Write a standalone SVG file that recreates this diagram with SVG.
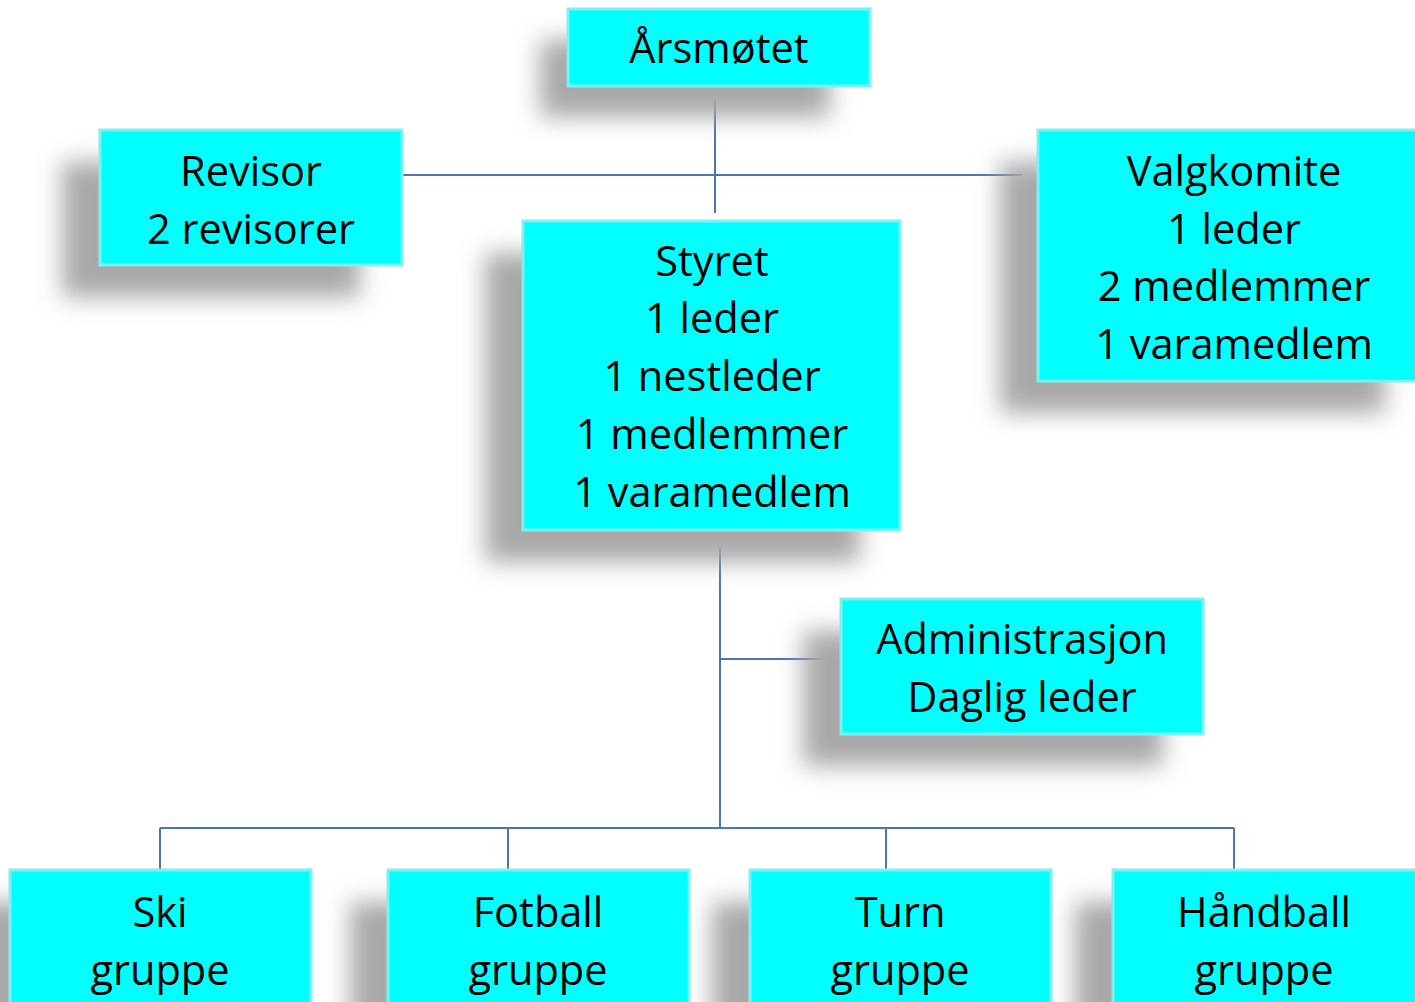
<svg xmlns="http://www.w3.org/2000/svg" width="1415" height="1002" viewBox="0 0 1415 1002">
<defs>
<filter id="blur" x="-30%" y="-30%" width="160%" height="160%"><feGaussianBlur stdDeviation="12"/></filter>
</defs>
<style>
.sh{fill:#a8a8a8;filter:url(#blur)}
.bx{fill:#00ffff;stroke:#7ff0f0;stroke-width:3}
.t{font-family:"Open Sans","Noto Sans",sans-serif;font-size:41.5px;fill:#000;text-anchor:middle}
.c{stroke:#4f74b3;stroke-width:2;fill:none}
</style>
<rect width="1415" height="1002" fill="#fff"/>
<g id="connectors">
<line class="c" x1="715" y1="99" x2="715" y2="213"/>
<line class="c" x1="402" y1="175" x2="1022" y2="175"/>
<line class="c" x1="720" y1="545" x2="720" y2="828"/>
<line class="c" x1="720" y1="659" x2="833" y2="659"/>
<line class="c" x1="160" y1="828" x2="1234" y2="828"/>
<line class="c" x1="160" y1="828" x2="160" y2="870"/>
<line class="c" x1="508" y1="828" x2="508" y2="870"/>
<line class="c" x1="886" y1="828" x2="886" y2="870"/>
<line class="c" x1="1234" y1="828" x2="1234" y2="870"/>
</g>
<g id="arsmotet">
<rect class="sh" x="540" y="40" width="290" height="77"/>
<rect class="bx" x="568" y="9" width="302" height="77"/>
<text class="t" x="719" y="63">Årsmøtet</text>
</g>
<g id="revisor">
<rect class="sh" x="62" y="162" width="298" height="135"/>
<rect class="bx" x="100" y="130" width="302" height="135"/>
<text class="t" x="251" y="186">Revisor</text>
<text class="t" x="251" y="244">2 revisorer</text>
</g>
<g id="valgkomite">
<rect class="sh" x="1000" y="162" width="385" height="251"/>
<rect class="bx" x="1038" y="130" width="380" height="251"/>
<text class="t" x="1234" y="186">Valgkomite</text>
<text class="t" x="1234" y="244">1 leder</text>
<text class="t" x="1234" y="301">2 medlemmer</text>
<text class="t" x="1234" y="359">1 varamedlem</text>
</g>
<g id="styret">
<rect class="sh" x="485" y="253" width="375" height="309"/>
<rect class="bx" x="523" y="221" width="377" height="309"/>
<text class="t" x="712" y="276">Styret</text>
<text class="t" x="712" y="333">1 leder</text>
<text class="t" x="712" y="391">1 nestleder</text>
<text class="t" x="712" y="449">1 medlemmer</text>
<text class="t" x="712" y="507">1 varamedlem</text>
</g>
<g id="administrasjon">
<rect class="sh" x="803" y="631" width="360" height="135"/>
<rect class="bx" x="841" y="599" width="362" height="135"/>
<text class="t" x="1022" y="654">Administrasjon</text>
<text class="t" x="1022" y="712">Daglig leder</text>
</g>
<g id="ski">
<rect class="sh" x="-28" y="902" width="300" height="140"/>
<rect class="bx" x="10" y="870" width="301" height="140"/>
<text class="t" x="160" y="927">Ski</text>
<text class="t" x="160" y="985">gruppe</text>
</g>
<g id="fotball">
<rect class="sh" x="350" y="902" width="300" height="140"/>
<rect class="bx" x="388" y="870" width="301" height="140"/>
<text class="t" x="538" y="927">Fotball</text>
<text class="t" x="538" y="985">gruppe</text>
</g>
<g id="turn">
<rect class="sh" x="712" y="902" width="300" height="140"/>
<rect class="bx" x="750" y="870" width="301" height="140"/>
<text class="t" x="900" y="927">Turn</text>
<text class="t" x="900" y="985">gruppe</text>
</g>
<g id="handball">
<rect class="sh" x="1075" y="902" width="300" height="140"/>
<rect class="bx" x="1113" y="870" width="305" height="140"/>
<text class="t" x="1264" y="927">Håndball</text>
<text class="t" x="1264" y="985">gruppe</text>
</g>
</svg>
